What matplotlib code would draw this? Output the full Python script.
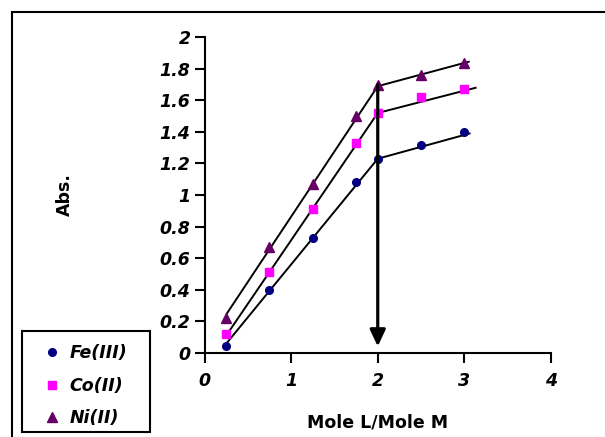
import matplotlib
matplotlib.use('Agg')
import matplotlib.pyplot as plt
from matplotlib.patches import Rectangle, FancyArrowPatch
from matplotlib.lines import Line2D

# the original text is Arial stretched wide; DejaVu Sans is the closest width match
plt.rcParams['font.family'] = ['DejaVu Sans']

# ------------------------- data --------------------------------
ratio = [0.25, 0.75, 1.25, 1.75, 2.0, 2.5, 3.0]
fe = [0.04, 0.40, 0.73, 1.08, 1.23, 1.32, 1.40]
co = [0.12, 0.51, 0.91, 1.33, 1.52, 1.62, 1.67]
ni = [0.22, 0.67, 1.07, 1.50, 1.70, 1.76, 1.84]

# straight-line segments drawn through the points (x1, y1, x2, y2)
fe_fit = [(0.24, 0.05, 2.0, 1.23), (2.0, 1.23, 3.06, 1.39)]
co_fit = [(0.24, 0.10, 2.0, 1.52), (2.0, 1.52, 3.13, 1.68)]
ni_fit = [(0.26, 0.25, 2.0, 1.69), (2.0, 1.69, 3.05, 1.845)]

arrow_x = 2.0
arrow_top = 1.70
arrow_bottom = 0.04

xticks = [0, 1, 2, 3, 4]
yticks = [0, 0.2, 0.4, 0.6, 0.8, 1, 1.2, 1.4, 1.6, 1.8, 2]
ytick_labels = ['0', '0.2', '0.4', '0.6', '0.8', '1', '1.2', '1.4', '1.6', '1.8', '2']

# ------------------------- plot --------------------------------
fig = plt.figure(figsize=(6.05, 4.37), dpi=100)
ax = fig.add_axes([204.5 / 605, 1 - 352.7 / 437, (551 - 204.5) / 605, (352.7 - 37.3) / 437])
ax.set_xlim(0, 4)
ax.set_ylim(0, 2)

for seg in fe_fit + co_fit + ni_fit:
    ax.plot([seg[0], seg[2]], [seg[1], seg[3]], color='black', lw=1.4, zorder=2)

ax.plot(ratio, fe, 'o', color='#000080', ms=5.5, zorder=3, clip_on=False)
ax.plot(ratio, co, 's', color='#FF00FF', ms=5.5, zorder=3, clip_on=False)
ax.plot(ratio, ni, '^', color='#660066', ms=7, zorder=3, clip_on=False)

arr = FancyArrowPatch((arrow_x, arrow_top), (arrow_x, arrow_bottom),
                      arrowstyle='-|>,head_length=1.0,head_width=0.47',
                      mutation_scale=10, color='black', lw=2.3,
                      shrinkA=0, shrinkB=0, zorder=4)
ax.add_patch(arr)

for s in ['top', 'right']:
    ax.spines[s].set_visible(False)
for s in ['left', 'bottom']:
    ax.spines[s].set_linewidth(1.5)

ax.set_xticks(xticks)
ax.set_yticks(yticks)
ax.set_xticklabels([str(t) for t in xticks])
ax.set_yticklabels(ytick_labels)
ax.tick_params(direction='out', length=7, width=1.5)
ax.tick_params(axis='x', pad=7)
ax.tick_params(axis='y', pad=3)
for lab in ax.get_xticklabels() + ax.get_yticklabels():
    lab.set_fontsize(12.5)
    lab.set_fontweight('bold')
    lab.set_fontstyle('italic')

ax.set_xlabel('Mole L/Mole M', fontsize=12.5, fontweight='bold', labelpad=17)
ax.set_ylabel('Abs.', fontsize=12.5, fontweight='bold', labelpad=62)

handles = [
    Line2D([], [], ls='none', marker='o', color='#000080', ms=5.5),
    Line2D([], [], ls='none', marker='s', color='#FF00FF', ms=5.5),
    Line2D([], [], ls='none', marker='^', color='#660066', ms=7),
]
leg = fig.legend(handles, ['Fe(III)', 'Co(II)', 'Ni(II)'],
                 loc='lower left', bbox_to_anchor=(22 / 605, 0),
                 prop={'weight': 'bold', 'style': 'italic', 'size': 12.5},
                 frameon=False, handlelength=2.4, handletextpad=-0.2,
                 labelspacing=0.85, borderpad=0.55, borderaxespad=0)

leg_box = Rectangle((22 / 605, 1 - 432 / 437), 128 / 605, 101 / 437,
                    transform=fig.transFigure, fill=False, edgecolor='black', lw=1.5)
fig.add_artist(leg_box)

frame = Rectangle((12 / 605, -0.1), 1.2, 1.1 - 12 / 437, transform=fig.transFigure,
                  fill=False, edgecolor='black', lw=1.5)
fig.add_artist(frame)

fig.savefig('out.png', dpi=100)
